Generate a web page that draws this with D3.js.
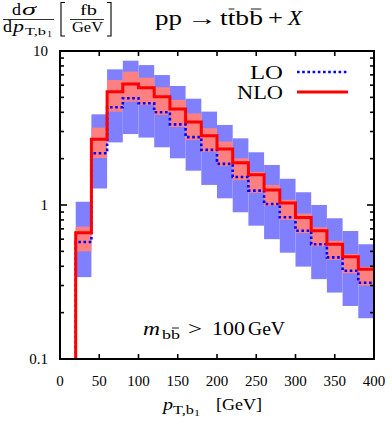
<!DOCTYPE html>
<html lang="en">
<head>
<meta charset="UTF-8" />
<title>pT,b1 distribution</title>
<script src="https://d3js.org/d3.v7.min.js"></script>
<style>
  body { margin: 0; background: #fff; }
  text { font-family: "Liberation Serif", "DejaVu Serif", serif; fill: #000; }
</style>
</head>
<body>
<svg width="392" height="424"></svg>
<script>
// bin lower edges (GeV), width 20
const binLo = [20, 40, 60, 80, 100, 120, 140, 160, 180, 200, 220, 240, 260, 280, 300, 320, 340, 360, 380];
const binWidth = 20;

// central values (fb/GeV)
const nlo = [0.66, 2.67, 5.44, 6.1, 5.78, 5.05, 4.2, 3.46, 2.82, 2.31, 1.88, 1.57, 1.25, 1.03, 0.83, 0.68, 0.556, 0.462, 0.382];
const lo = [0.575, 2.17, 4.31, 4.93, 4.58, 4.0, 3.34, 2.76, 2.28, 1.85, 1.52, 1.24, 1.015, 0.832, 0.681, 0.556, 0.457, 0.374, 0.313];

// scale uncertainty bands
const loHi = [1.05, 3.88, 7.6, 8.65, 8.1, 6.98, 5.93, 4.9, 4.04, 3.31, 2.71, 2.2, 1.82, 1.48, 1.21, 1.0, 0.82, 0.678, 0.556];
const loLo = [0.34, 1.28, 2.55, 2.89, 2.74, 2.37, 2.01, 1.67, 1.35, 1.105, 0.897, 0.734, 0.6, 0.49, 0.398, 0.33, 0.27, 0.221, 0.184];
const nloHi = [0.723, 3.18, 6.48, 7.34, 6.71, 5.81, 4.81, 3.93, 3.15, 2.58, 2.01, 1.64, 1.35, 1.08, 0.88, 0.716, 0.586, 0.48, 0.397];
const nloLo = [0.5, 2.02, 4.04, 4.69, 4.46, 3.84, 3.21, 2.64, 2.21, 1.79, 1.45, 1.2, 0.99, 0.8, 0.658, 0.54, 0.44, 0.36, 0.3];

// axis ticks
const xTicks = [0, 50, 100, 150, 200, 250, 300, 350, 400];
const yMajor = [0.1, 1, 10];
const yLabels = ["0.1", "1", "10"];
const yMinor = [0.2, 0.3, 0.4, 0.5, 0.6, 0.7, 0.8, 0.9, 2, 3, 4, 5, 6, 7, 8, 9];

const pLeft = 60, pRight = 374, pTop = 51, pBottom = 359;

const x = d3.scaleLinear().domain([0, 400]).range([pLeft, pRight]);
const y = d3.scaleLog().domain([0.1, 10]).range([pBottom, pTop]);

const svg = d3.select("svg");

svg.append("defs").append("clipPath").attr("id", "plot")
  .append("rect").attr("x", pLeft).attr("y", pTop)
  .attr("width", pRight - pLeft).attr("height", pBottom - pTop);

const plot = svg.append("g").attr("clip-path", "url(#plot)");

// bands
function band(hi, lowv, color) {
  plot.append("g").selectAll("rect")
    .data(binLo)
    .join("rect")
    .attr("x", d => x(d))
    .attr("width", d => x(d + binWidth) - x(d))
    .attr("y", (d, i) => y(hi[i]))
    .attr("height", (d, i) => y(lowv[i]) - y(hi[i]))
    .attr("fill", color);
}
band(loHi, loLo, "#8080ff");
band(nloHi, nloLo, "#ff8080");

// step lines
function stepPts(vals) {
  const pts = [[binLo[0], 0.1]];
  binLo.forEach((b, i) => pts.push([b, vals[i]]));
  pts.push([binLo[binLo.length - 1] + binWidth, vals[vals.length - 1]]);
  return pts;
}
const step = d3.line().x(d => x(d[0])).y(d => y(d[1])).curve(d3.curveStepAfter);

plot.append("path").attr("d", step(stepPts(lo)))
  .attr("fill", "none").attr("stroke", "#0000ff")
  .attr("stroke-width", 2.6).attr("stroke-dasharray", "2.6 2.6");
plot.append("path").attr("d", step(stepPts(nlo)))
  .attr("fill", "none").attr("stroke", "#ff0000")
  .attr("stroke-width", 3).attr("stroke-linejoin", "miter");

// frame and ticks
const axes = svg.append("g").attr("stroke", "#000");
axes.append("rect").attr("x", pLeft).attr("y", pTop)
  .attr("width", pRight - pLeft).attr("height", pBottom - pTop)
  .attr("fill", "none").attr("stroke-width", 2);

xTicks.forEach(t => {
  axes.append("line").attr("x1", x(t)).attr("x2", x(t)).attr("y1", pBottom).attr("y2", pBottom - 5).attr("stroke-width", 1.6);
  axes.append("line").attr("x1", x(t)).attr("x2", x(t)).attr("y1", pTop).attr("y2", pTop + 5).attr("stroke-width", 1.6);
});
yMajor.forEach(t => {
  axes.append("line").attr("x1", pLeft).attr("x2", pLeft + 7).attr("y1", y(t)).attr("y2", y(t)).attr("stroke-width", 1.6);
  axes.append("line").attr("x1", pRight).attr("x2", pRight - 7).attr("y1", y(t)).attr("y2", y(t)).attr("stroke-width", 1.6);
});
yMinor.forEach(t => {
  axes.append("line").attr("x1", pLeft).attr("x2", pLeft + 4).attr("y1", y(t)).attr("y2", y(t)).attr("stroke-width", 1.6);
  axes.append("line").attr("x1", pRight).attr("x2", pRight - 4).attr("y1", y(t)).attr("y2", y(t)).attr("stroke-width", 1.6);
});

// tick labels
svg.append("g").selectAll("text").data(xTicks).join("text")
  .attr("x", d => x(d)).attr("y", 386)
  .attr("text-anchor", "middle").style("font-size", "15px")
  .text(d => d);
svg.append("g").selectAll("text").data(yMajor).join("text")
  .attr("x", 48).attr("y", d => y(d) + 5)
  .attr("text-anchor", "end").style("font-size", "15px")
  .text((d, i) => yLabels[i]);

// a piece of text squeezed/stretched to a given width (the original's math font is wider)
function txt(x0, y0, w, size, s, italic) {
  return svg.append("text").attr("x", x0).attr("y", y0)
    .style("font-size", size + "px").style("font-style", italic ? "italic" : null)
    .attr("textLength", w).attr("lengthAdjust", "spacingAndGlyphs")
    .text(s);
}

// overline helper: draws a bar above character i of a text element
function overline(textSel, i, dy) {
  const box = textSel.node().getExtentOfChar(i);
  svg.append("line")
    .attr("x1", box.x + box.width * 0.12).attr("x2", box.x + box.width * 0.88)
    .attr("y1", box.y + dy).attr("y2", box.y + dy)
    .attr("stroke", "#000").attr("stroke-width", 0.9);
}
function hline(x1, x2, yy) {
  svg.append("line").attr("x1", x1).attr("x2", x2).attr("y1", yy).attr("y2", yy)
    .attr("stroke", "#000").attr("stroke-width", 0.8);
}

// x axis label
txt(163, 410, 10, 17, "p", true);
txt(173, 414, 21, 12, "T,b", false);
txt(194, 416, 6, 9, "1", false);
txt(216, 410, 46, 17, "[GeV]", false);

// title: d sigma / d p_T,b1
txt(12, 15, 9, 16, "d", false);
txt(22, 15, 14, 16, "σ", true);
hline(3, 54, 19.5);
txt(3, 31.5, 9, 16, "d", false);
txt(13, 31.5, 11, 16, "p", true);
txt(25, 34.5, 21, 11, "T,b", false);
txt(47, 36.5, 5, 8, "1", false);

// [ fb / GeV ]
svg.append("path").attr("d", "M65,2.5 H61 V36 H65").attr("fill", "none").attr("stroke", "#000").attr("stroke-width", 1.1);
svg.append("path").attr("d", "M107,2.5 H111 V36 H107").attr("fill", "none").attr("stroke", "#000").attr("stroke-width", 1.1);
txt(80, 15, 17, 15, "fb", false);
hline(70, 104, 19.5);
txt(72, 31.5, 31, 15, "GeV", false);

// process
txt(155, 25, 27, 20, "pp", false);
txt(187, 25, 30, 20, "→", false);
const quarks = txt(220, 25, 43, 20, "ttbb", false);
overline(quarks, 1, 2);
overline(quarks, 3, 2);
txt(268, 25, 15, 20, "+", false);
txt(288, 25, 14, 20, "X", true);

// cut label
txt(143, 335, 17, 18, "m", true);
const sub = txt(162, 339, 18, 13, "bb", false);
overline(sub, 1, 1);
txt(188, 335, 14, 18, ">", false);
txt(212, 335, 33, 18, "100", false);
txt(248, 335, 37, 18, "GeV", false);

// legend
const legend = [
  { name: "LO", color: "#0000ff", dash: "2.6 2.6", w: 2.6, yy: 72, x0: 250, tw: 33 },
  { name: "NLO", color: "#ff0000", dash: null, w: 3, yy: 92, x0: 237, tw: 46 }
];
legend.forEach(l => {
  txt(l.x0, l.yy + 7, l.tw, 19, l.name, false);
  svg.append("line").attr("x1", 297).attr("x2", 348).attr("y1", l.yy).attr("y2", l.yy)
    .attr("stroke", l.color).attr("stroke-width", l.w).attr("stroke-dasharray", l.dash);
});
</script>
</body>
</html>
